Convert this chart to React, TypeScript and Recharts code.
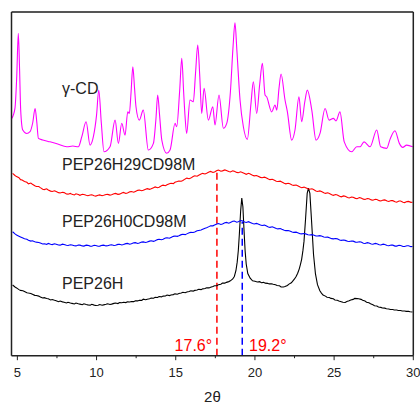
import React from 'react';
import { LineChart, Line, XAxis, YAxis, ReferenceLine, ReferenceDot } from 'recharts';

// 2θ (deg) vs. intensity (arbitrary, offset units)
const gammaCD: [number, number][] = [
  [4.65, 12.43], [4.85, 12.97], [4.96, 14.6], [5.06, 16.88], [5.14, 15.0], [5.21, 12.86], [5.34, 11.82],
  [5.59, 11.64], [5.8, 11.73], [5.97, 12.2], [6.12, 12.95], [6.22, 12.3], [6.33, 11.38], [6.6, 11.3],
  [7.06, 11.2], [7.5, 11.1], [8.12, 10.94], [8.5, 10.98], [8.85, 10.94], [9.07, 11.47], [9.34, 12.25],
  [9.59, 11.03], [9.8, 11.47], [10.0, 12.6], [10.14, 13.91], [10.3, 12.2], [10.47, 10.68], [10.85, 10.94],
  [11.17, 12.34], [11.38, 11.12], [11.59, 12.17], [11.8, 11.55], [11.97, 12.77], [12.07, 12.69],
  [12.18, 13.8], [12.29, 15.13], [12.4, 14.0], [12.49, 13.04], [12.7, 12.34], [12.95, 12.86],
  [13.27, 10.77], [13.59, 11.12], [13.75, 12.4], [13.86, 13.65], [13.98, 12.6], [14.12, 11.29],
  [14.43, 10.6], [14.64, 10.77], [14.96, 12.17], [15.06, 11.99], [15.25, 13.9], [15.38, 15.57],
  [15.5, 13.8], [15.59, 12.51], [15.69, 11.64], [15.9, 13.39], [16.11, 13.3], [16.25, 14.8],
  [16.39, 16.27], [16.52, 14.6], [16.64, 12.69], [16.79, 14.0], [17.06, 12.34], [17.34, 13.04],
  [17.48, 12.08], [17.73, 13.65], [18.01, 11.91], [18.22, 12.17], [18.45, 13.8], [18.62, 16.2],
  [18.74, 17.43], [18.86, 16.0], [19.06, 13.39], [19.27, 11.99], [19.52, 11.33], [19.75, 13.2],
  [19.9, 14.35], [20.11, 12.69], [20.3, 14.2], [20.47, 15.31], [20.64, 13.65], [20.74, 13.56],
  [21.06, 12.77], [21.27, 13.13], [21.38, 12.86], [21.52, 14.0], [21.65, 14.75], [21.9, 13.39],
  [22.05, 12.77], [22.32, 11.29], [22.53, 11.82], [22.78, 13.56], [22.95, 12.25], [23.15, 13.3],
  [23.31, 13.91], [23.59, 12.86], [23.86, 11.29], [24.11, 11.64], [24.43, 12.95], [24.68, 12.34],
  [24.95, 12.43], [25.12, 12.3], [25.37, 12.77], [25.64, 11.2], [26.11, 10.68], [26.43, 10.94],
  [26.64, 10.94], [26.89, 11.2], [27.27, 10.94], [27.69, 11.82], [27.94, 10.94], [28.32, 10.86],
  [28.53, 11.33], [28.84, 11.78], [29.12, 11.12], [29.33, 10.91], [29.58, 11.03], [29.96, 10.94],
];

const pep26h29cd98m: [number, number][] = [
  [4.7, 9.55], [4.85, 9.44], [4.95, 9.38], [5.1, 9.32], [5.2, 9.22], [5.3, 9.2], [5.45, 9.12], [5.6, 9.08],
  [5.7, 9.0], [5.85, 9.04], [5.95, 8.98], [6.1, 8.9], [6.2, 8.86], [6.35, 8.86], [6.45, 8.8], [6.6, 8.72],
  [6.7, 8.7], [6.85, 8.74], [6.95, 8.68], [7.1, 8.62], [7.2, 8.6], [7.35, 8.64], [7.45, 8.6], [7.6, 8.54],
  [7.7, 8.52], [7.85, 8.56], [7.95, 8.54], [8.1, 8.47], [8.2, 8.46], [8.35, 8.5], [8.45, 8.45], [8.6, 8.42],
  [8.7, 8.48], [8.85, 8.44], [8.95, 8.4], [9.1, 8.45], [9.2, 8.44], [9.35, 8.4], [9.45, 8.38], [9.6, 8.42],
  [9.7, 8.43], [9.85, 8.38], [9.95, 8.36], [10.1, 8.4], [10.2, 8.42], [10.35, 8.38], [10.45, 8.4],
  [10.6, 8.44], [10.7, 8.45], [10.85, 8.41], [10.95, 8.43], [11.1, 8.48], [11.2, 8.5], [11.35, 8.45],
  [11.45, 8.46], [11.6, 8.52], [11.7, 8.55], [11.85, 8.5], [11.95, 8.52], [12.1, 8.58], [12.2, 8.6],
  [12.35, 8.56], [12.45, 8.6], [12.6, 8.66], [12.7, 8.68], [12.85, 8.64], [12.95, 8.66], [13.1, 8.72],
  [13.2, 8.75], [13.35, 8.71], [13.45, 8.74], [13.6, 8.8], [13.7, 8.84], [13.85, 8.8], [13.95, 8.82],
  [14.1, 8.9], [14.2, 8.93], [14.35, 8.9], [14.45, 8.95], [14.6, 9.0], [14.7, 9.03], [14.85, 9.01],
  [14.95, 9.08], [15.1, 9.12], [15.2, 9.15], [15.35, 9.14], [15.45, 9.18], [15.6, 9.26], [15.7, 9.3],
  [15.85, 9.27], [15.95, 9.3], [16.1, 9.38], [16.2, 9.42], [16.35, 9.4], [16.45, 9.45], [16.6, 9.52],
  [16.7, 9.55], [16.85, 9.52], [16.95, 9.55], [17.1, 9.62], [17.2, 9.65], [17.35, 9.6], [17.45, 9.62],
  [17.6, 9.7], [17.7, 9.72], [17.85, 9.66], [17.95, 9.68], [18.1, 9.73], [18.2, 9.7], [18.35, 9.65],
  [18.45, 9.62], [18.6, 9.68], [18.7, 9.66], [18.85, 9.6], [18.95, 9.58], [19.1, 9.63], [19.2, 9.6],
  [19.35, 9.54], [19.45, 9.5], [19.6, 9.55], [19.7, 9.52], [19.85, 9.45], [19.95, 9.42], [20.1, 9.44],
  [20.2, 9.4], [20.35, 9.34], [20.45, 9.32], [20.6, 9.35], [20.7, 9.32], [20.85, 9.25], [20.95, 9.22],
  [21.1, 9.24], [21.2, 9.2], [21.35, 9.14], [21.45, 9.12], [21.6, 9.14], [21.7, 9.1], [21.85, 9.03],
  [21.95, 9.0], [22.1, 9.03], [22.2, 9.0], [22.35, 8.94], [22.45, 8.92], [22.6, 8.94], [22.7, 8.9],
  [22.85, 8.83], [22.95, 8.8], [23.1, 8.83], [23.2, 8.8], [23.35, 8.74], [23.45, 8.72], [23.6, 8.74],
  [23.7, 8.7], [23.85, 8.63], [23.95, 8.6], [24.1, 8.63], [24.2, 8.6], [24.35, 8.53], [24.45, 8.5],
  [24.6, 8.53], [24.7, 8.5], [24.85, 8.43], [24.95, 8.4], [25.1, 8.44], [25.2, 8.42], [25.35, 8.35],
  [25.45, 8.32], [25.6, 8.37], [25.7, 8.35], [25.85, 8.28], [25.95, 8.26], [26.1, 8.31], [26.2, 8.3],
  [26.35, 8.24], [26.45, 8.22], [26.6, 8.28], [26.7, 8.26], [26.85, 8.2], [26.95, 8.18], [27.1, 8.23],
  [27.2, 8.22], [27.35, 8.16], [27.45, 8.14], [27.6, 8.19], [27.7, 8.18], [27.85, 8.12], [27.95, 8.1],
  [28.1, 8.15], [28.2, 8.16], [28.35, 8.1], [28.45, 8.08], [28.6, 8.13], [28.7, 8.12], [28.85, 8.06],
  [28.95, 8.04], [29.1, 8.1], [29.2, 8.1], [29.35, 8.04], [29.45, 8.02], [29.6, 8.07], [29.7, 8.08],
  [29.85, 8.03], [29.95, 8.04],
];

const pep26h0cd98m: [number, number][] = [
  [4.7, 6.49], [4.85, 6.38], [4.95, 6.32], [5.1, 6.26], [5.2, 6.22], [5.35, 6.16], [5.45, 6.12],
  [5.6, 6.1], [5.7, 6.05], [5.85, 6.0], [5.95, 6.02], [6.1, 5.97], [6.2, 5.95], [6.35, 5.93], [6.45, 5.9],
  [6.6, 5.85], [6.7, 5.86], [6.85, 5.83], [6.95, 5.88], [7.1, 5.84], [7.2, 5.82], [7.35, 5.86],
  [7.45, 5.84], [7.6, 5.8], [7.7, 5.79], [7.85, 5.84], [7.95, 5.82], [8.1, 5.78], [8.2, 5.77], [8.35, 5.81],
  [8.45, 5.8], [8.6, 5.76], [8.7, 5.75], [8.85, 5.8], [8.95, 5.79], [9.1, 5.75], [9.2, 5.74], [9.35, 5.79],
  [9.45, 5.78], [9.6, 5.74], [9.7, 5.73], [9.85, 5.78], [9.95, 5.77], [10.1, 5.73], [10.2, 5.74],
  [10.35, 5.78], [10.45, 5.79], [10.6, 5.75], [10.7, 5.76], [10.85, 5.8], [10.95, 5.81], [11.1, 5.77],
  [11.2, 5.78], [11.35, 5.83], [11.45, 5.84], [11.6, 5.8], [11.7, 5.82], [11.85, 5.87], [11.95, 5.88],
  [12.1, 5.84], [12.2, 5.86], [12.35, 5.91], [12.45, 5.92], [12.6, 5.88], [12.7, 5.9], [12.85, 5.95],
  [12.95, 5.96], [13.1, 5.93], [13.2, 5.95], [13.35, 6.0], [13.45, 6.02], [13.6, 5.99], [13.7, 6.02],
  [13.85, 6.08], [13.95, 6.1], [14.1, 6.07], [14.2, 6.1], [14.35, 6.16], [14.45, 6.18], [14.6, 6.15],
  [14.7, 6.19], [14.85, 6.25], [14.95, 6.27], [15.1, 6.25], [15.2, 6.28], [15.35, 6.34], [15.45, 6.36],
  [15.6, 6.34], [15.7, 6.38], [15.85, 6.44], [15.95, 6.46], [16.1, 6.45], [16.2, 6.48], [16.35, 6.54],
  [16.45, 6.56], [16.6, 6.58], [16.7, 6.62], [16.85, 6.68], [16.95, 6.7], [17.1, 6.76], [17.2, 6.8],
  [17.35, 6.8], [17.45, 6.84], [17.6, 6.9], [17.7, 6.92], [17.85, 6.87], [17.95, 6.9], [18.1, 6.96],
  [18.2, 6.98], [18.35, 6.94], [18.45, 6.98], [18.6, 7.04], [18.7, 7.05], [18.85, 6.99], [18.95, 7.02],
  [19.1, 7.08], [19.2, 7.06], [19.35, 7.0], [19.45, 6.98], [19.6, 7.02], [19.7, 6.98], [19.85, 6.92],
  [19.95, 6.9], [20.1, 6.93], [20.2, 6.9], [20.35, 6.84], [20.45, 6.82], [20.6, 6.84], [20.7, 6.8],
  [20.85, 6.74], [20.95, 6.72], [21.1, 6.75], [21.2, 6.72], [21.35, 6.66], [21.45, 6.64], [21.6, 6.66],
  [21.7, 6.62], [21.85, 6.57], [21.95, 6.55], [22.1, 6.56], [22.2, 6.53], [22.35, 6.48], [22.45, 6.46],
  [22.6, 6.47], [22.7, 6.44], [22.85, 6.39], [22.95, 6.38], [23.1, 6.4], [23.2, 6.38], [23.35, 6.33],
  [23.45, 6.32], [23.6, 6.34], [23.7, 6.32], [23.85, 6.27], [23.95, 6.27], [24.1, 6.29], [24.2, 6.27],
  [24.35, 6.22], [24.45, 6.2], [24.6, 6.21], [24.7, 6.18], [24.85, 6.13], [24.95, 6.12], [25.1, 6.14],
  [25.2, 6.12], [25.35, 6.06], [25.45, 6.04], [25.6, 6.06], [25.7, 6.04], [25.85, 5.99], [25.95, 5.98],
  [26.1, 6.01], [26.2, 6.0], [26.35, 5.95], [26.45, 5.94], [26.6, 5.97], [26.7, 5.95], [26.85, 5.89],
  [26.95, 5.88], [27.1, 5.92], [27.2, 5.9], [27.35, 5.85], [27.45, 5.84], [27.6, 5.88], [27.7, 5.86],
  [27.85, 5.81], [27.95, 5.8], [28.1, 5.84], [28.2, 5.82], [28.35, 5.77], [28.45, 5.76], [28.6, 5.8],
  [28.7, 5.79], [28.85, 5.74], [28.95, 5.74], [29.1, 5.78], [29.2, 5.77], [29.35, 5.72], [29.45, 5.72],
  [29.6, 5.76], [29.7, 5.76], [29.85, 5.71], [29.95, 5.72],
];

const pep26h: [number, number][] = [
  [4.7, 3.7], [4.85, 3.6], [4.95, 3.55], [5.1, 3.46], [5.2, 3.42], [5.35, 3.4], [5.45, 3.36], [5.6, 3.3],
  [5.7, 3.28], [5.85, 3.26], [5.95, 3.22], [6.1, 3.16], [6.2, 3.15], [6.35, 3.12], [6.45, 3.08],
  [6.6, 3.02], [6.7, 3.04], [6.85, 3.0], [6.95, 2.98], [7.1, 2.92], [7.2, 2.94], [7.35, 2.9], [7.45, 2.88],
  [7.6, 2.83], [7.7, 2.86], [7.85, 2.82], [7.95, 2.8], [8.1, 2.76], [8.2, 2.8], [8.35, 2.76], [8.45, 2.74],
  [8.6, 2.71], [8.7, 2.76], [8.85, 2.72], [8.95, 2.7], [9.1, 2.67], [9.2, 2.72], [9.35, 2.68], [9.45, 2.66],
  [9.6, 2.64], [9.7, 2.69], [9.85, 2.65], [9.95, 2.63], [10.1, 2.64], [10.2, 2.68], [10.35, 2.64],
  [10.45, 2.66], [10.6, 2.69], [10.7, 2.72], [10.85, 2.68], [10.95, 2.7], [11.1, 2.74], [11.2, 2.76],
  [11.35, 2.73], [11.45, 2.78], [11.6, 2.77], [11.7, 2.8], [11.85, 2.78], [11.95, 2.82], [12.1, 2.81],
  [12.2, 2.84], [12.35, 2.83], [12.45, 2.88], [12.6, 2.87], [12.7, 2.9], [12.85, 2.9], [12.95, 2.96],
  [13.1, 2.93], [13.2, 2.96], [13.35, 2.98], [13.45, 3.02], [13.6, 3.01], [13.7, 3.06], [13.85, 3.05],
  [13.95, 3.1], [14.1, 3.08], [14.2, 3.12], [14.35, 3.13], [14.45, 3.18], [14.6, 3.15], [14.7, 3.18],
  [14.85, 3.2], [14.95, 3.24], [15.1, 3.22], [15.2, 3.26], [15.35, 3.28], [15.45, 3.32], [15.6, 3.3],
  [15.7, 3.34], [15.85, 3.36], [15.95, 3.4], [16.1, 3.38], [16.2, 3.42], [16.35, 3.44], [16.45, 3.48],
  [16.6, 3.46], [16.7, 3.5], [16.85, 3.52], [16.95, 3.56], [17.1, 3.55], [17.2, 3.58], [17.35, 3.62],
  [17.45, 3.66], [17.6, 3.66], [17.7, 3.72], [17.85, 3.74], [17.95, 3.8], [18.1, 3.8], [18.2, 3.84],
  [18.35, 3.88], [18.45, 3.92], [18.6, 4.02], [18.7, 4.15], [18.8, 4.45], [18.88, 4.9], [18.95, 5.5],
  [19.02, 6.4], [19.1, 7.6], [19.17, 8.25], [19.24, 7.8], [19.31, 6.6], [19.38, 5.5], [19.45, 4.8],
  [19.55, 4.3], [19.7, 4.06], [19.85, 3.92], [20.0, 3.9], [20.15, 3.86], [20.3, 3.88], [20.4, 3.82],
  [20.55, 3.84], [20.65, 3.8], [20.8, 3.79], [20.9, 3.76], [21.05, 3.77], [21.15, 3.74], [21.3, 3.72],
  [21.4, 3.68], [21.55, 3.66], [21.65, 3.6], [21.8, 3.6], [21.9, 3.62], [22.05, 3.68], [22.15, 3.75],
  [22.3, 3.82], [22.4, 3.92], [22.5, 4.02], [22.6, 4.15], [22.7, 4.32], [22.8, 4.55], [22.88, 4.8],
  [22.95, 5.05], [23.03, 5.5], [23.1, 6.0], [23.2, 7.2], [23.3, 8.5], [23.38, 8.78], [23.47, 8.5],
  [23.58, 7.0], [23.7, 5.3], [23.82, 4.3], [23.95, 3.72], [24.1, 3.4], [24.2, 3.28], [24.3, 3.18],
  [24.45, 3.12], [24.55, 3.06], [24.7, 3.05], [24.8, 3.0], [24.95, 2.98], [25.05, 2.92], [25.2, 2.9],
  [25.3, 2.86], [25.45, 2.83], [25.55, 2.8], [25.7, 2.79], [25.8, 2.84], [25.95, 2.88], [26.05, 2.92],
  [26.2, 2.95], [26.3, 3.0], [26.45, 2.99], [26.55, 2.98], [26.7, 2.95], [26.8, 2.9], [26.95, 2.86],
  [27.05, 2.8], [27.2, 2.77], [27.3, 2.72], [27.45, 2.67], [27.55, 2.62], [27.7, 2.6], [27.8, 2.55],
  [27.95, 2.53], [28.05, 2.5], [28.2, 2.49], [28.3, 2.46], [28.45, 2.45], [28.55, 2.42], [28.7, 2.42],
  [28.8, 2.39], [28.95, 2.39], [29.05, 2.37], [29.2, 2.37], [29.3, 2.34], [29.45, 2.34], [29.55, 2.32],
  [29.7, 2.32], [29.8, 2.3], [29.95, 2.29],
];

const xTicks = [5, 7.5, 10, 12.5, 15, 17.5, 20, 22.5, 25, 27.5, 30];
const yTicks = [0, 1, 2, 3, 4, 5, 6, 7, 8, 9, 10, 11, 12, 13, 14, 15, 16, 17, 18];

const curveLabels = [
  { text: 'γ-CD', x: 7.82, y: 14.0 },
  { text: 'PEP26H29CD98M', x: 7.82, y: 10.0 },
  { text: 'PEP26H0CD98M', x: 7.82, y: 7.03 },
  { text: 'PEP26H', x: 7.82, y: 3.81 },
];

const peakMarks = [
  { pos: 17.6, top: 9.7, color: '#ff0000', text: '17.6°', textX: 17.3, side: 'left' },
  { pos: 19.2, top: 7.0, color: '#0000ff', text: '19.2°', textX: 19.63, side: 'right' },
];

const toPts = (arr: [number, number][]) => arr.map(([x, y]) => ({ x, y }));

const FONT = 'Arial, "Liberation Sans", sans-serif';

const BottomTick = (props: any) => {
  const { x, y, payload } = props;
  const v = payload.value as number;
  const major = v % 5 === 0;
  return (
    <g>
      <line x1={x} x2={x} y1={y} y2={y + (major ? 4.5 : 2.5)} stroke="#222" strokeWidth={1} />
      {major && (
        <text x={x} y={y + 21.6} textAnchor="middle" fontSize={13} fill="#222" fontFamily={FONT}>
          {v}
        </text>
      )}
    </g>
  );
};

export default function App() {
  return (
    <div style={{ position: 'absolute', left: 0, top: 0, width: 420, height: 404, background: '#fff' }}>
      <LineChart width={420} height={404} margin={{ top: 11, right: 5.7, left: 10.5, bottom: 0.3 }}>
        <XAxis
          dataKey="x"
          type="number"
          domain={[4.63, 30]}
          ticks={xTicks}
          allowDataOverflow
          height={48}
          tickSize={0}
          tickMargin={0}
          tickLine={false}
          tick={<BottomTick />}
          axisLine={{ stroke: '#222', strokeWidth: 1.5 }}
          interval={0}
          label={{ value: '2θ', position: 'insideBottom', offset: 1.5, fontSize: 15, fill: '#222', fontFamily: FONT }}
        />
        <XAxis
          xAxisId="top"
          orientation="top"
          dataKey="x"
          type="number"
          domain={[4.63, 30]}
          ticks={xTicks}
          allowDataOverflow
          height={1}
          tick={false}
          tickSize={-2}
          tickLine={{ stroke: '#333' }}
          axisLine={{ stroke: '#555', strokeWidth: 2 }}
          interval={0}
        />
        <YAxis
          type="number"
          domain={[0, 18]}
          ticks={yTicks}
          allowDataOverflow
          width={1}
          tick={false}
          tickSize={-2.5}
          tickLine={{ stroke: '#222' }}
          axisLine={{ stroke: '#222', strokeWidth: 1.5 }}
          interval={0}
        />
        <YAxis
          yAxisId="r"
          orientation="right"
          type="number"
          domain={[0, 18]}
          ticks={yTicks}
          allowDataOverflow
          width={1}
          tick={false}
          tickSize={-2.5}
          tickLine={{ stroke: '#222' }}
          axisLine={{ stroke: '#222', strokeWidth: 1.5 }}
          interval={0}
        />
        {peakMarks.map((m) => (
          <ReferenceLine
            key={m.text}
            segment={[{ x: m.pos, y: 0 }, { x: m.pos, y: m.top }]}
            stroke={m.color}
            strokeWidth={1.5}
            strokeDasharray="7 4"
          />
        ))}
        <Line data={toPts(pep26h)} dataKey="y" type="linear" stroke="#000000" strokeWidth={1.1} dot={false} isAnimationActive={false} />
        <Line data={toPts(pep26h0cd98m)} dataKey="y" type="linear" stroke="#0000ff" strokeWidth={1.1} dot={false} isAnimationActive={false} />
        <Line data={toPts(pep26h29cd98m)} dataKey="y" type="linear" stroke="#ff0000" strokeWidth={1.1} dot={false} isAnimationActive={false} />
        <Line data={toPts(gammaCD)} dataKey="y" type="monotone" stroke="#ff00ff" strokeWidth={1.1} dot={false} isAnimationActive={false} />
        {curveLabels.map((l) => (
          <ReferenceDot
            key={l.text}
            x={l.x}
            y={l.y}
            r={0}
            fill="none"
            stroke="none"
            label={{ value: l.text, position: 'right', offset: 0, fontSize: 16, fill: '#222', fontFamily: FONT }}
          />
        ))}
        {peakMarks.map((m) => (
          <ReferenceDot
            key={'t' + m.text}
            x={m.textX}
            y={0.56}
            r={0}
            fill="none"
            stroke="none"
            label={{ value: m.text, position: m.side as any, offset: 0, fontSize: 16, fill: '#ff0000', fontFamily: FONT }}
          />
        ))}
      </LineChart>
    </div>
  );
}
